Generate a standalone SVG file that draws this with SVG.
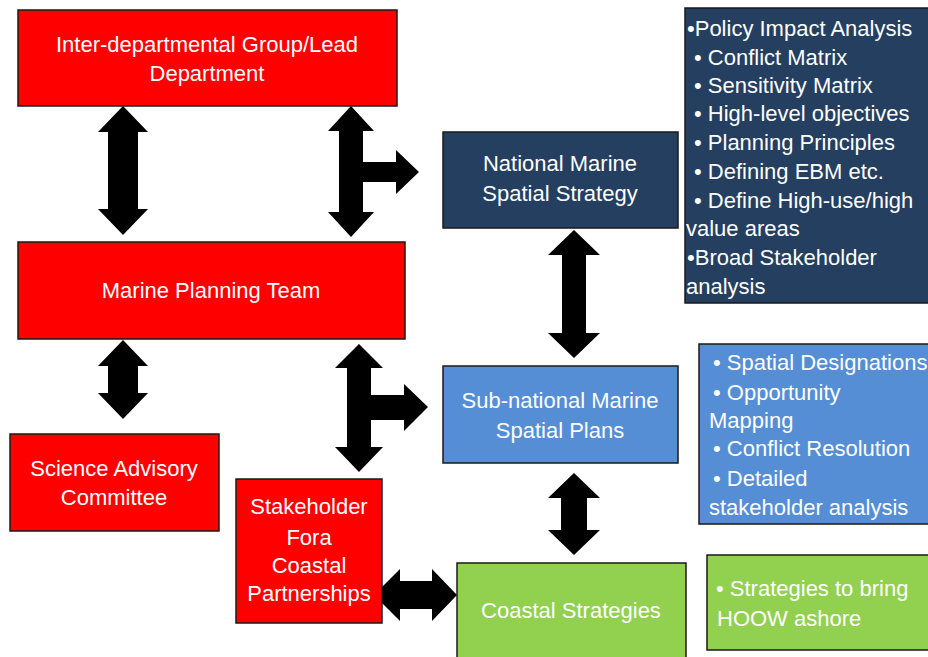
<svg xmlns="http://www.w3.org/2000/svg" width="928" height="657" viewBox="0 0 928 657">
<style>
.box{stroke:#1a1a1a;stroke-width:1.5}
.red{fill:#ff0000}
.navy{fill:#243f60}
.blue{fill:#558ed5}
.green{fill:#92d050}
text{font-family:"Liberation Sans",Arial,sans-serif;font-size:22px;fill:#ffffff}
.c{text-anchor:middle}
.arrow{fill:#000000}
</style>
<rect width="928" height="657" fill="#ffffff"/>
<g id="connectors">
<polygon class="arrow" points="123,106 148,132 138,132 138,209 148,209 123,235 98,209 108,209 108,132 98,132"/>
<polygon class="arrow" points="351,106 374,131 363,131 363,162 396,162 396,150 419,172 396,194 396,182 363,182 363,212 374,212 351,237 328,212 339,212 339,131 328,131"/>
<polygon class="arrow" points="574,230 600,255 586,255 586,333 600,333 574,358 548,333 562,333 562,255 548,255"/>
<polygon class="arrow" points="123,340 148,366 138,366 138,393 148,393 123,419 98,393 108,393 108,366 98,366"/>
<polygon class="arrow" points="359,344 383,368 371,368 371,395 404,395 404,384 428,407 404,431 404,420 371,420 371,447 383,447 359,472 335,447 347,447 347,368 335,368"/>
<polygon class="arrow" points="574,473 600,498 587,498 587,530 600,530 574,555 548,530 561,530 561,498 548,498"/>
<polygon class="arrow" points="374,595 400,569 400,581 432,581 432,569 457,595 432,621 432,609 400,609 400,621"/>
</g>
<g id="inter-departmental">
<rect class="box red" x="18" y="10" width="379" height="96"/>
<text class="c" x="207" y="52">Inter-departmental Group/Lead</text>
<text class="c" x="207" y="81">Department</text>
</g>
<g id="marine-planning-team">
<rect class="box red" x="18" y="242" width="387" height="97"/>
<text class="c" x="211" y="298">Marine Planning Team</text>
</g>
<g id="national-strategy">
<rect class="box navy" x="443" y="132" width="235" height="96"/>
<text class="c" x="560" y="171">National Marine</text>
<text class="c" x="560" y="201">Spatial Strategy</text>
</g>
<g id="national-notes">
<rect class="box navy" x="685" y="8" width="245" height="295"/>
<text x="687" y="36">•Policy Impact Analysis</text>
<text x="694" y="65">• Conflict Matrix</text>
<text x="694" y="93">• Sensitivity Matrix</text>
<text x="694" y="121">• High-level objectives</text>
<text x="694" y="150">• Planning Principles</text>
<text x="694" y="179">• Defining EBM etc.</text>
<text x="694" y="208">• Define High-use/high</text>
<text x="686" y="236">value areas</text>
<text x="687" y="265">•Broad Stakeholder</text>
<text x="686" y="294">analysis</text>
</g>
<g id="subnational-plans">
<rect class="box blue" x="443" y="366" width="235" height="97"/>
<text class="c" x="560" y="408">Sub-national Marine</text>
<text class="c" x="560" y="438">Spatial Plans</text>
</g>
<g id="subnational-notes">
<rect class="box blue" x="699" y="344" width="231" height="180"/>
<text x="713" y="370">• Spatial Designations</text>
<text x="713" y="400">• Opportunity</text>
<text x="709" y="428">Mapping</text>
<text x="713" y="456">• Conflict Resolution</text>
<text x="713" y="486">• Detailed</text>
<text x="709" y="515">stakeholder analysis</text>
</g>
<g id="science-advisory">
<rect class="box red" x="10" y="434" width="209" height="97"/>
<text class="c" x="114" y="476">Science Advisory</text>
<text class="c" x="114" y="505">Committee</text>
</g>
<g id="stakeholder-fora">
<rect class="box red" x="236" y="479" width="146" height="144"/>
<text class="c" x="309" y="514">Stakeholder</text>
<text class="c" x="309" y="545">Fora</text>
<text class="c" x="309" y="573">Coastal</text>
<text class="c" x="309" y="601">Partnerships</text>
</g>
<g id="coastal-strategies">
<rect class="box green" x="457" y="563" width="229" height="100"/>
<text class="c" x="571" y="618">Coastal Strategies</text>
</g>
<g id="coastal-notes">
<rect class="box green" x="707" y="555" width="223" height="95"/>
<text x="716" y="596">• Strategies to bring</text>
<text x="717" y="626">HOOW ashore</text>
</g>
</svg>
